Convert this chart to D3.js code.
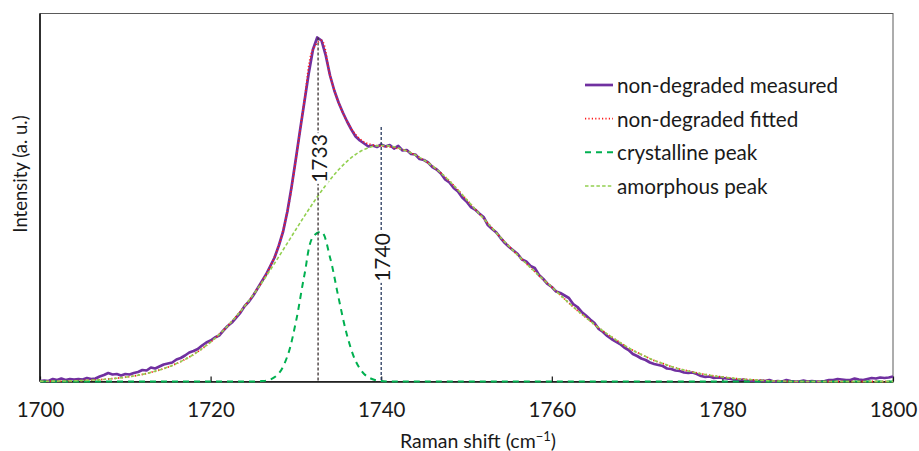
<!DOCTYPE html>
<html>
<head>
<meta charset="utf-8">
<script src="https://cdn.jsdelivr.net/npm/d3@7"></script>
<style>
  body { margin: 0; background: #fff; }
  svg { display: block; }
  text { font-family: Lato, "Open Sans", sans-serif; fill: #1a1a1a; }
</style>
</head>
<body>
<svg id="chart" width="919" height="451"></svg>
<script>
// Raman spectrum of the non-degraded sample (C=O stretching region) and its fit.

// Measured spectrum, sampled every 0.5 cm-1 from 1700 cm-1
const measuredStart = 1700;
const measuredStep = 0.5;
const measured = [
  0.5, 1, 0.5, 2.5, 1.5, 3, 1.5, 2.5, 2, 2.5,
  2, 3.5, 2.5, 3, 5, 6.5, 8.5, 7, 7.5, 6,
  7.5, 7, 8.5, 9.5, 11.5, 11, 14, 13, 15, 17,
  18, 19, 22, 23.5, 26, 29, 30.5, 32.5, 36, 39,
  41, 44, 46, 51, 55.5, 59, 64, 69, 75.5, 80,
  86, 93, 100, 107, 115.5, 124, 136, 150, 170, 195,
  223, 252, 280, 308, 332, 344, 341, 326, 306, 291,
  279, 269, 260, 252, 245, 241, 238, 235, 236, 234.5,
  237, 235, 236.5, 233, 235.5, 231, 231.5, 227.5, 227, 222.5,
  221.5, 219, 214.5, 212, 208, 202, 199, 193.5, 190, 184,
  180, 174.5, 172, 168, 164.5, 156.5, 152.5, 149, 143.5, 138.5,
  134.5, 131, 127.5, 122, 120, 115.5, 113.5, 106.5, 102.5, 97.5,
  94.5, 90, 88.5, 86, 83.5, 77.5, 74.5, 69.5, 66, 62,
  58.5, 52.5, 49.5, 45.5, 42.5, 40, 37.5, 34, 31.5, 27.5,
  25.5, 23, 21.5, 19, 17.5, 16.5, 15.5, 13, 12.5, 11,
  10.5, 9, 8.5, 9, 7.5, 5.5, 4.5, 5, 3.5, 4,
  3.5, 3, 2.5, 1.5, 1.5, 2, 0.5, 1, 0, 1,
  0.5, 1.5, 0, 0.5, 0, 1.5, 0.5, 0, 0, 1,
  0, 0.5, 0, 0, 0.5, 1.5, 1.5, 2.5, 2, 1.5,
  1.5, 3, 2, 1.5, 2.5, 3.5, 3, 4, 3.5, 4,
  5
];

// Model curves, sampled every 1 cm-1 from 1700 cm-1
const modelStart = 1700;
const modelStep = 1;
const fitted = [
  0.2, 0.3, 0.4, 0.5, 0.7, 1, 1.4, 1.8, 2.5, 3.3,
  4.3, 5.5, 7.1, 9.1, 11.5, 14.4, 17.9, 22.1, 27, 32.8,
  39.4, 47, 55.5, 65, 75.4, 86.7, 99.5, 115, 136, 170,
  222, 281, 332, 341, 306, 279, 260, 247, 239.5, 236.5,
  235.5, 234.5, 233, 230.5, 226.5, 221.5, 215.5, 208.5, 200.5, 191.5,
  182, 172.5, 163, 153.5, 144, 135, 126.5, 118, 110, 102,
  94.5, 86.5, 78.5, 71, 64, 57, 50.5, 44.5, 39, 33.5,
  29, 25, 21, 18, 15, 12.5, 10.5, 8.5, 7, 5.5,
  4.5, 3.5, 2.5, 2, 1.5, 1, 0.5, 0.5, 0, 0,
  0, 0, 0, 0, 0, 0, 0, 0, 0, 0,
  0
];
const crystalline = [
  0, 0, 0, 0, 0, 0, 0, 0, 0, 0,
  0, 0, 0, 0, 0, 0, 0, 0, 0, 0,
  0, 0, 0, 0, 0, 0, 0.4, 2, 8.1, 25.2,
  59.6, 106.6, 144.6, 149.5, 124.1, 83.8, 46.1, 20.6, 7.5, 2.2,
  0.5, 0, 0, 0, 0, 0, 0, 0, 0, 0,
  0, 0, 0, 0, 0, 0, 0, 0, 0, 0,
  0, 0, 0, 0, 0, 0, 0, 0, 0, 0,
  0, 0, 0, 0, 0, 0, 0, 0, 0, 0,
  0, 0, 0, 0, 0, 0, 0, 0, 0, 0,
  0, 0, 0, 0, 0, 0, 0, 0, 0, 0,
  0
];
const amorphous = [
  0.2, 0.3, 0.4, 0.5, 0.7, 1, 1.4, 1.8, 2.5, 3.3,
  4.3, 5.5, 7.1, 9.1, 11.5, 14.4, 17.9, 22.1, 27, 32.8,
  39.4, 47, 55.5, 65, 75.4, 86.7, 98.8, 111.6, 124.9, 138.4,
  152, 165.4, 178.3, 190.5, 201.7, 211.7, 220.2, 227, 232, 235,
  236, 235.5, 233.5, 230.5, 226.5, 221.5, 215.5, 208.5, 200.5, 191.5,
  182, 172.5, 163, 153.5, 144, 135, 126.5, 118, 110, 102,
  94.5, 86.5, 78.5, 71, 64, 57, 50.5, 44.5, 39, 33.5,
  29, 25, 21, 18, 15, 12.5, 10.5, 8.5, 7, 5.5,
  4.5, 3.5, 2.5, 2, 1.5, 1, 0.5, 0.5, 0, 0,
  0, 0, 0, 0, 0, 0, 0, 0, 0, 0,
  0
];

// Axis ticks
const xTicks = [1700, 1720, 1740, 1760, 1780, 1800];

// Marked peak positions (cm-1), their labels and the intensity where each marker starts
const peakShift = [1732.6, 1740.0];
const peakLabel = ["1733", "1740"];
const peakTop = [344, 254.5];

// Legend
const seriesNames = ["non-degraded measured", "non-degraded fitted", "crystalline peak", "amorphous peak"];

// ---------------------------------------------------------------------------
const svg = d3.select("#chart");
const plot = { left: 40, right: 893, top: 13.5, bottom: 381.5 };

const x = d3.scaleLinear().domain([1700, 1800]).range([plot.left, plot.right]);
const y = d3.scaleLinear().domain([0, 368]).range([plot.bottom, plot.top]);

const toPoints = (vals, start, step) => vals.map((v, i) => [start + i * step, v]);

const styles = [
  { color: "#7030a0", width: 2.7, dash: null },
  { color: "#ff1a1a", width: 1.8, dash: "1.2,2.2" },
  { color: "#00b050", width: 2.0, dash: "6,5" },
  { color: "#92d050", width: 1.6, dash: "3.5,2.2" }
];

const seriesData = [
  toPoints(measured, measuredStart, measuredStep),
  toPoints(fitted, modelStart, modelStep),
  toPoints(crystalline, modelStart, modelStep),
  toPoints(amorphous, modelStart, modelStep)
];

// Plot frame
svg.append("rect")
  .attr("x", plot.left).attr("y", plot.top)
  .attr("width", plot.right - plot.left).attr("height", plot.bottom - plot.top)
  .attr("fill", "none").attr("stroke", "#5a5a5a").attr("stroke-width", 1);
svg.append("line")
  .attr("x1", plot.left).attr("x2", plot.left)
  .attr("y1", plot.top).attr("y2", plot.bottom)
  .attr("stroke", "#111").attr("stroke-width", 1.6);

// X axis with inward ticks
const xAxis = d3.axisBottom(x)
  .tickValues(xTicks)
  .tickFormat(d3.format("d"))
  .tickSizeInner(-5)
  .tickSizeOuter(0)
  .tickPadding(21);
const gx = svg.append("g")
  .attr("transform", `translate(0,${plot.bottom})`)
  .call(xAxis);
gx.select(".domain").attr("stroke", "#111").attr("stroke-width", 1.6);
gx.selectAll(".tick line").attr("stroke", "#111").attr("stroke-width", 1.2);
gx.selectAll(".tick text")
  .style("font-family", "Lato, 'Open Sans', sans-serif")
  .style("font-size", "20.5px")
  .attr("fill", "#1a1a1a");

// Series: the measured trace is drawn point to point, model curves smoothed
const smooth = d3.line()
  .x(d => x(d[0]))
  .y(d => y(d[1]))
  .curve(d3.curveCatmullRom.alpha(0.5));
const straight = d3.line()
  .x(d => x(d[0]))
  .y(d => y(d[1]));

seriesData.forEach((pts, i) => {
  const s = styles[i];
  svg.append("path")
    .datum(pts)
    .attr("fill", "none")
    .attr("stroke", s.color)
    .attr("stroke-width", s.width)
    .attr("stroke-linejoin", "round")
    .attr("stroke-dasharray", s.dash)
    .attr("d", i === 0 ? straight(pts) : smooth(pts));
});

// Peak markers
const markerColors = ["#3a3030", "#283a5e"];
const labelCenter = [223, 124];
peakShift.forEach((p, i) => {
  svg.append("line")
    .attr("x1", x(p)).attr("x2", x(p))
    .attr("y1", y(peakTop[i])).attr("y2", y(0))
    .attr("stroke", markerColors[i])
    .attr("stroke-width", 1.3)
    .attr("stroke-dasharray", "3,2");
  const g = svg.append("g")
    .attr("transform", `translate(${x(p)},${y(labelCenter[i])}) rotate(-90)`);
  const t = g.append("text")
    .attr("text-anchor", "middle")
    .attr("dominant-baseline", "central")
    .style("font-size", "21px")
    .text(peakLabel[i]);
  const bb = t.node().getBBox();
  g.insert("rect", "text")
    .attr("x", bb.x - 1).attr("y", bb.y + 2)
    .attr("width", bb.width + 2).attr("height", bb.height - 4)
    .attr("fill", "#fff");
});

// Axis titles
const xt = svg.append("text")
  .attr("x", 478).attr("y", 448)
  .attr("text-anchor", "middle")
  .style("font-size", "19.5px");
xt.append("tspan").text("Raman shift (cm");
xt.append("tspan").attr("dy", -7).style("font-size", "13px").text("−1");
xt.append("tspan").attr("dy", 7).text(")");

svg.append("text")
  .attr("transform", "translate(20,174) rotate(-90)")
  .attr("text-anchor", "middle")
  .attr("dominant-baseline", "central")
  .style("font-size", "18.5px")
  .text("Intensity (a. u.)");

// Legend
const legendY = d3.scalePoint().domain(seriesNames).range([85, 186]);
const legend = svg.append("g");
seriesNames.forEach((name, i) => {
  const s = styles[i];
  const yy = legendY(name);
  legend.append("line")
    .attr("x1", 585).attr("x2", 613)
    .attr("y1", yy).attr("y2", yy)
    .attr("stroke", s.color)
    .attr("stroke-width", s.width)
    .attr("stroke-dasharray", s.dash);
  legend.append("text")
    .attr("x", 617).attr("y", yy)
    .attr("dominant-baseline", "central")
    .style("font-size", "20.7px")
    .text(name);
});
</script>
</body>
</html>
